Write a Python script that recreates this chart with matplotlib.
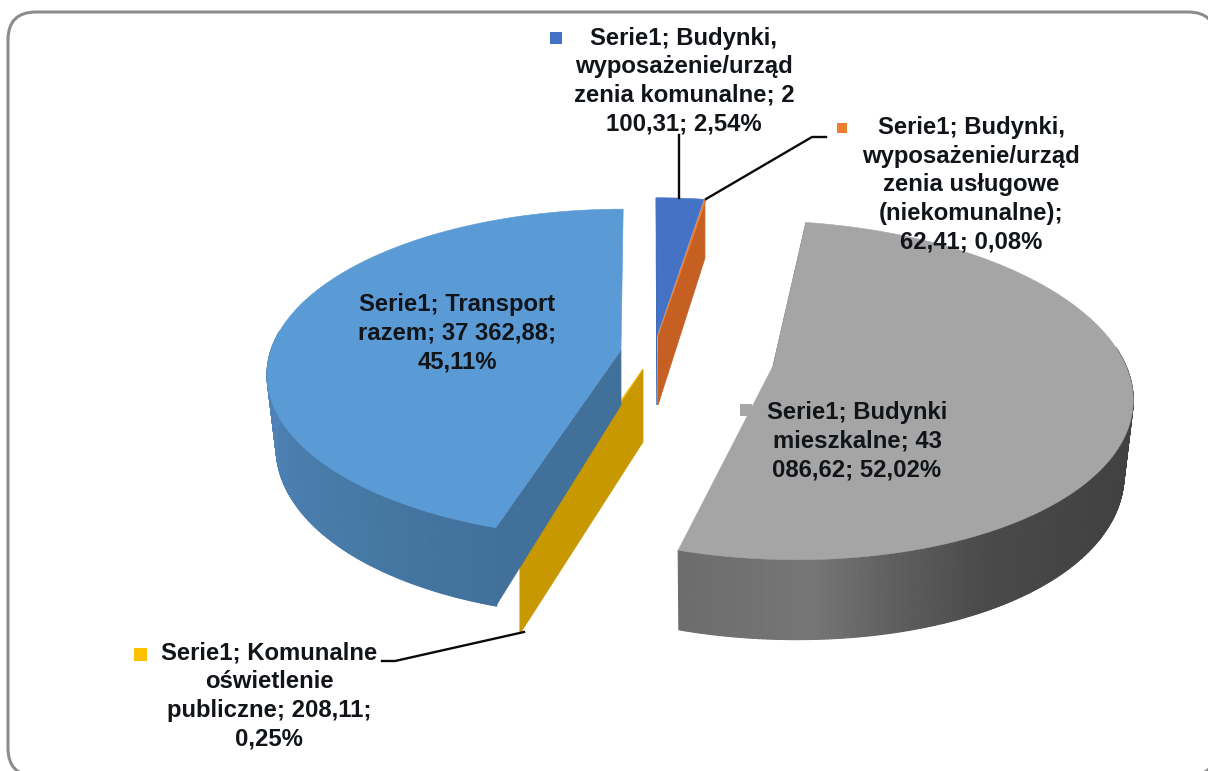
import numpy as np
import matplotlib
matplotlib.use("Agg")
import matplotlib.pyplot as plt
from matplotlib.patches import Polygon, FancyBboxPatch, Rectangle
from matplotlib.collections import PolyCollection
from matplotlib.colors import to_rgb

# ---- data -----------------------------------------------------------------
categories = ["Budynki, wyposażenie/urządzenia komunalne",
              "Budynki, wyposażenie/urządzenia usługowe (niekomunalne)",
              "Budynki mieszkalne",
              "Komunalne oświetlenie publiczne",
              "Transport razem"]
values = [2100.31, 62.41, 43086.62, 208.11, 37362.88]
labels = ["Serie1; Budynki,\nwyposażenie/urząd\nzenia komunalne; 2\n100,31; 2,54%",
          "Serie1; Budynki,\nwyposażenie/urząd\nzenia usługowe\n(niekomunalne);\n62,41; 0,08%",
          "Serie1; Budynki\nmieszkalne; 43\n086,62; 52,02%",
          "Serie1; Komunalne\noświetlenie\npubliczne; 208,11;\n0,25%",
          "Serie1; Transport\nrazem; 37 362,88;\n45,11%"]

# ---- style / layout -------------------------------------------------------
W, H = 1208, 771
PERSP = 0.143
FS = 17.2
TXT = "#111418"
# centre x, centre y, rx, ry, skew, apex depth, outer depth
geom = [
    (657, 336, 344, 158, -1, 69, 64),
    (658, 336, 344, 158, -1, 69, 66),
    (773, 366, 353, 166, -20.4, 60, 72),
    (643, 369, 370, 165, 0, 73, 74),
    (621, 350, 350, 161, 2.5, 55, 71),
]
top_cols = ["#4472C4", "#ED7D31", "#A5A5A5", "#FFC000", "#5B9BD5"]
side_cols = ["#3F68B5", "#C55F22", "#6C6C6C", "#C89800", "#41709B"]
wall_stops = [
    [(0, "#3F68B5"), (360, "#3F68B5")],
    [(0, "#C55F22"), (360, "#C55F22")],
    [(90, "#3E3E3E"), (135, "#444444"), (152, "#4A4A4A"), (166, "#5E5E5E"),
     (178, "#767676"), (197, "#6C6C6C")],
    [(0, "#C89800"), (360, "#C89800")],
    [(197, "#41709B"), (225, "#477AA6"), (250, "#4C80B3"), (285, "#5286BF")],
]
label_pos = [(684, 81), (971, 185), (857, 441), (269, 696), (457, 333)]
key_pos = [(556, 38, 12), (842, 128, 10), (746, 410, 12), (140, 654, 13)]
key_idx = [0, 1, 2, 3]
leaders = [([679, 679], [135, 198]),
           ([706, 812, 826], [199, 137, 137]),
           ([524, 395, 382], [632, 661, 661])]

# ---- angles from the values ----------------------------------------------
vals = np.array(values, dtype=float)
edges = np.concatenate([[0.0], np.cumsum(vals) / vals.sum() * 360.0])


def project(g, deg):
    cx, cy, rx, ry, k, _, _ = g
    t = np.radians(deg)
    u, v = np.sin(t), np.cos(t)
    w = 1 + PERSP * v
    return cx + (rx * u + k * v) / w, cy - ry * v / w


def outer_depth(g, deg):
    return g[6] * (1 - 0.11 * np.cos(np.radians(deg)))


def lerp_color(stops, deg):
    a = [s[0] for s in stops]
    c = np.array([to_rgb(s[1]) for s in stops])
    return tuple(np.interp(deg, a, c[:, i]) for i in range(3))


plt.rcParams["font.family"] = ["Liberation Sans", "DejaVu Sans"]
fig = plt.figure(figsize=(W / 100, H / 100), dpi=100, facecolor="white")
ax = fig.add_axes([0, 0, 1, 1])
ax.set_xlim(0, W)
ax.set_ylim(H, 0)
ax.axis("off")

ax.add_patch(FancyBboxPatch((8 + 28, 12 + 28), W + 8 - 8 - 56, H + 5 - 12 - 56,
                            boxstyle="round,pad=28,rounding_size=28",
                            fc="white", ec="#8C8C8C", lw=2.2, zorder=0))

for i in [4, 3, 0, 1, 2]:
    g = geom[i]
    t0, t1 = edges[i], edges[i + 1]
    cx, cy = g[0], g[1]
    ts = np.linspace(t0, t1, max(3, int((t1 - t0) * 2) + 1))
    xs, ys = project(g, ts)
    z = 2 + i * 0.01

    # straight side wall at the start of each slice
    px, py = project(g, t0)
    d = outer_depth(g, t0)
    ax.add_patch(Polygon([(cx, cy), (px, py), (px, py + d), (cx, cy + g[5])],
                         closed=True, fc=side_cols[i], ec=side_cols[i],
                         lw=0.5, zorder=z))

    # outer curved wall, split into narrow quads for the shading
    mask = np.cos(np.radians(ts)) < 0.12
    if mask.sum() > 1 and t1 - t0 > 5 and i != 0:
        tw = ts[mask]
        xw, yw = xs[mask], ys[mask]
        xb = cx + (xw - cx) * (1 - 0.026 * np.abs(np.sin(np.radians(tw))))
        yb = yw + outer_depth(g, tw)
        quads = [[(xw[j], yw[j]), (xw[j + 1], yw[j + 1]), (xb[j + 1], yb[j + 1]), (xb[j], yb[j])]
                 for j in range(len(tw) - 1)]
        cols = [lerp_color(wall_stops[i], 0.5 * (tw[j] + tw[j + 1])) for j in range(len(tw) - 1)]
        ax.add_collection(PolyCollection(quads, facecolors=cols, edgecolors=cols,
                                         linewidths=0.8, zorder=z + 0.001))

    # top face
    pts = [(cx, cy)] + list(zip(xs, ys))
    ax.add_patch(Polygon(pts, closed=True, fc=top_cols[i], ec=top_cols[i], lw=0.4,
                         zorder=z + 0.002))

for (lx, ly) in leaders:
    ax.plot(lx, ly, color="#0A0A0A", lw=1.7, zorder=5, solid_joinstyle="round")

for (kx, ky, ks), idx in zip(key_pos, key_idx):
    ax.add_patch(Rectangle((kx - ks / 2, ky - ks / 2), ks, ks, fc=top_cols[idx], ec="none", zorder=6))

for lab, (tx, ty) in zip(labels, label_pos):
    ax.text(tx, ty, lab, ha="center", va="center", multialignment="center",
            fontsize=FS, fontweight="bold", color=TXT, linespacing=1.31, zorder=7)

fig.savefig("out.png", dpi=100)
